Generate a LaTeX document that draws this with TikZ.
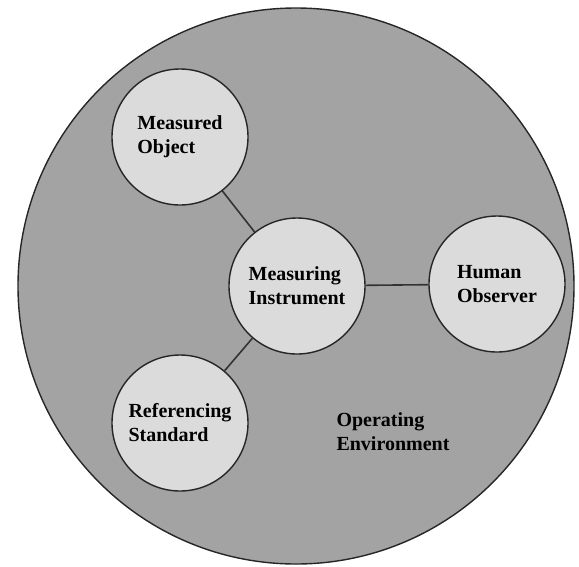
\documentclass[tikz,border=0pt]{standalone}
\usepackage{fontspec}
\setmainfont{Liberation Serif}
\usepackage{tikz}
\usetikzlibrary{positioning}
\definecolor{envgray}{gray}{0.64}
\definecolor{partgray}{gray}{0.86}

\begin{document}
\begin{tikzpicture}[x=1pt,y=-1pt,
part/.style={circle,draw=black!85,line width=1.4pt,fill=partgray,
minimum size=136pt,inner sep=0pt,align=left,
font=\fontsize{20}{24}\selectfont\bfseries},
link/.style={draw=black!80,line width=1.6pt}]
\useasboundingbox (0,0) rectangle (579,566);
\node[circle,draw=black!85,line width=1.4pt,fill=envgray,
minimum size=556pt] (env) at (296,286) {};
\node[part] (obj) at (180,137) {Measured\\Object};
\node[part] (ins) at (297,286) {Measuring\\Instrument};
\node[part] (obs) at (497,284) {Human\\Observer};
\node[part] (std) at (180,423) {Referencing\\Standard};
\node[align=left,font=\fontsize{20}{24}\selectfont\bfseries]
(oper) at (393,432) {Operating\\Environment};
\path[link]
(obj) edge (ins)
(ins) edge (obs)
(ins) edge (std);
\end{tikzpicture}
\end{document}
